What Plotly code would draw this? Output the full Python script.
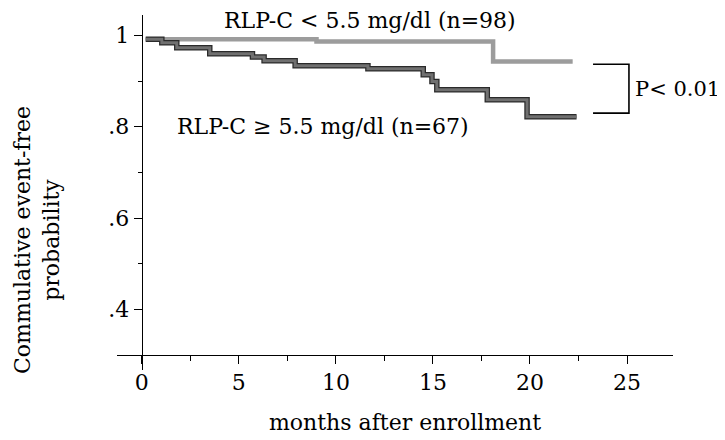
import plotly.graph_objects as go

# Kaplan-Meier style step data (months, event-free probability)
low_t = [0.2, 9.0, 18.1, 22.2]
low_s = [0.992, 0.987, 0.943, 0.943]

high_t = [0.2, 1.03, 1.8, 3.5, 5.7, 6.3, 7.9, 11.65, 14.5, 14.95, 15.2, 17.8, 19.85, 22.4]
high_s = [0.992, 0.984, 0.973, 0.960, 0.953, 0.945, 0.934, 0.927, 0.914, 0.899, 0.881, 0.859, 0.822, 0.822]

x_ticks = [0, 5, 10, 15, 20, 25]
x_minor = [2.5, 7.5, 12.5, 17.5, 22.5]
y_ticks = [0.4, 0.6, 0.8, 1.0]
y_ticktext = [".4", ".6", ".8", "1"]
y_minor = [0.5, 0.7, 0.9]

label_low = "RLP-C < 5.5 mg/dl (n=98)"
label_high = "RLP-C ≥ 5.5 mg/dl (n=67)"
p_text = "P< 0.01"

XR = [-1.28, 27.37]
YR = [0.267, 1.045]
X_AXIS_AT_Y = 0.30

FONT = "DejaVu Serif"
FS = 22

# page body adds an 8px offset; figure sized so plot sits where the reference has it
OFF = 8
W, H = 725 - OFF, 440 - OFF
pl, pr, pt, pb = 117 - OFF, 725 - 673, 15 - OFF, 440 - 370

fig = go.Figure()
fig.add_trace(go.Scatter(x=low_t, y=low_s, mode="lines", line=dict(shape="hv", color="#9c9c9c", width=4.5),
                         showlegend=False, hoverinfo="skip"))
fig.add_trace(go.Scatter(x=high_t, y=high_s, mode="lines", line=dict(shape="hv", color="#2a2a2a", width=5.5),
                         showlegend=False, hoverinfo="skip"))
fig.add_trace(go.Scatter(x=high_t, y=high_s, mode="lines", line=dict(shape="hv", color="#707070", width=3),
                         showlegend=False, hoverinfo="skip"))

ypos = (0 - XR[0]) / (XR[1] - XR[0])
xpos = (X_AXIS_AT_Y - YR[0]) / (YR[1] - YR[0])

fig.update_xaxes(range=XR, anchor="free", position=xpos, showline=True, linecolor="black", linewidth=1.3,
                 ticks="outside", ticklen=8, tickwidth=1.2, tickcolor="black",
                 tickvals=x_ticks, ticktext=[str(v) for v in x_ticks],
                 minor=dict(tickvals=x_minor, ticks="outside", ticklen=5, tickwidth=1, tickcolor="black"),
                 showgrid=False, zeroline=False, tickfont=dict(family=FONT, size=FS, color="black"))
fig.update_yaxes(range=YR, anchor="free", position=ypos, showline=True, linecolor="black", linewidth=1.3,
                 ticks="outside", ticklen=8, tickwidth=1.2, tickcolor="black",
                 tickvals=y_ticks, ticktext=y_ticktext,
                 minor=dict(tickvals=y_minor, ticks="outside", ticklen=4, tickwidth=1, tickcolor="black"),
                 showgrid=False, zeroline=False, tickfont=dict(family=FONT, size=FS, color="black"))

# bracket for p-value
bx0, bx1 = 23.25, 25.1
by_top, by_bot = 0.937, 0.830
fig.add_shape(type="path", xref="x", yref="y",
              path=f"M {bx0} {by_top} L {bx1} {by_top} L {bx1} {by_bot} L {bx0} {by_bot}",
              line=dict(color="black", width=1.6))

fig.add_annotation(x=11.76, y=1.034, xref="x", yref="y", text=label_low, showarrow=False,
                   xanchor="center", yanchor="middle",
                   font=dict(family=FONT, size=FS, color="black"))
fig.add_annotation(x=9.33, y=0.80, xref="x", yref="y", text=label_high, showarrow=False,
                   xanchor="center", yanchor="middle",
                   font=dict(family=FONT, size=FS, color="black"))
fig.add_annotation(x=25.3, y=(by_top + by_bot) / 2, xref="x", yref="y", text=p_text, showarrow=False,
                   xanchor="left", yanchor="middle", font=dict(family=FONT, size=21, color="black"))

pw, ph = W - pl - pr, H - pt - pb


def px2paper(sx, sy):
    fx, fy = sx - OFF, sy - OFF
    return (fx - pl) / pw, 1 - (fy - pt) / ph


tx, ty = px2paper(405, 422)
fig.add_annotation(x=tx, y=ty, xref="paper", yref="paper", text="months after enrollment", showarrow=False,
                   xanchor="center", yanchor="middle",
                   font=dict(family=FONT, size=FS, color="black"))
lx, ly = px2paper(37, 240)
fig.add_annotation(x=lx, y=ly, xref="paper", yref="paper",
                   text="Commulative event-free<br>probability", textangle=-90, showarrow=False,
                   xanchor="center", yanchor="middle",
                   font=dict(family=FONT, size=FS, color="black"))

fig.update_layout(
    width=W, height=H,
    margin=dict(l=pl, r=pr, t=pt, b=pb),
    paper_bgcolor="white", plot_bgcolor="white",
    font=dict(family=FONT, size=FS, color="black"),
)

fig.write_html("out.html")
